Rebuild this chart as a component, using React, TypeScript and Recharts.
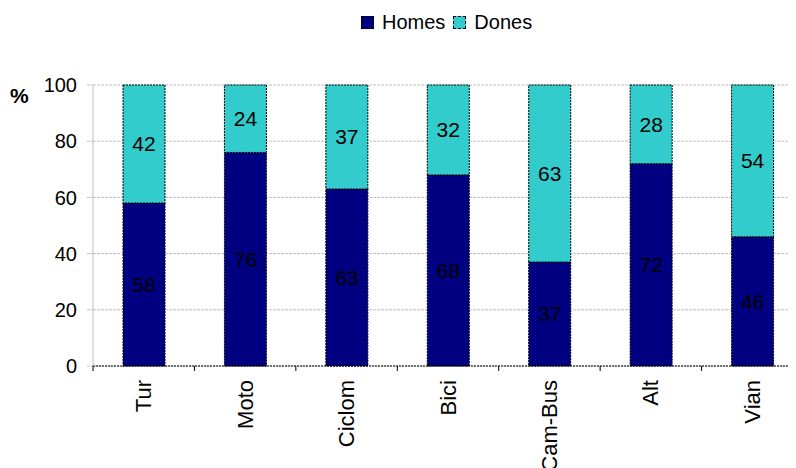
import { BarChart, Bar, XAxis, YAxis, CartesianGrid, LabelList } from 'recharts';

const categories = ['Tur', 'Moto', 'Ciclom', 'Bici', 'Cam-Bus', 'Alt', 'Vian'];
const homes = [58, 76, 63, 68, 37, 72, 46];
const dones = [42, 24, 37, 32, 63, 28, 54];
const yTicks = [0, 20, 40, 60, 80, 100];

const data = categories.map((name, i) => ({ name, homes: homes[i], dones: dones[i] }));

const CHART_W = 795;
const CHART_H = 460;
const Y_AXIS_W = 85;
const BAND = (CHART_W - Y_AXIS_W) / categories.length;
const FONT = '"Liberation Sans", Arial, sans-serif';

function CategoryTick(props: any) {
  const { x, y, payload } = props;
  const left = x - BAND / 2;
  return (
    <g>
      <line x1={left} y1={y} x2={left} y2={y + 5} stroke="#000" />
      <text
        x={x}
        y={y + 14}
        transform={`rotate(-90, ${x}, ${y + 14})`}
        textAnchor="end"
        dominantBaseline="central"
        fontSize={22}
        fontFamily={FONT}
        fill="#000"
      >
        {payload.value}
      </text>
    </g>
  );
}

function LegendBox({ color, label }: { color: string; label: string }) {
  return (
    <div style={{ display: 'flex', alignItems: 'center', marginRight: 8 }}>
      <div
        style={{
          width: 11,
          height: 11,
          background: color,
          border: '1px dashed #000',
          marginRight: 8,
        }}
      />
      <span>{label}</span>
    </div>
  );
}

export default function App() {
  return (
    <div style={{ position: 'relative', width: 788, height: 460, overflow: 'hidden', fontFamily: FONT }}>
      <div
        style={{
          position: 'absolute',
          top: 4,
          left: 353,
          display: 'flex',
          fontSize: 20,
          lineHeight: '20px',
          color: '#000',
        }}
      >
        <LegendBox color="#000080" label="Homes" />
        <LegendBox color="#33CCCC" label="Dones" />
      </div>
      <div
        style={{
          position: 'absolute',
          top: 78,
          left: 2,
          fontSize: 21,
          lineHeight: '20px',
          fontWeight: 'bold',
        }}
      >
        %
      </div>
      <BarChart
        width={CHART_W}
        height={CHART_H}
        data={data}
        margin={{ top: 77, right: 0, left: 0, bottom: 0 }}
        barSize={42}
      >
        <CartesianGrid
          vertical={false}
          stroke="#c0c0c0"
          strokeDasharray="3 1"
        />
        <XAxis
          dataKey="name"
          height={102}
          tickSize={0}
          tickMargin={0}
          tickLine={false}
          axisLine={{ stroke: '#000', strokeDasharray: '2 1' }}
          tick={<CategoryTick />}
          interval={0}
        />
        <YAxis
          width={Y_AXIS_W}
          domain={[0, 100]}
          ticks={yTicks}
          tickSize={6}
          tickMargin={10}
          tickLine={{ stroke: '#c0c0c0', strokeDasharray: '3 1' }}
          axisLine={{ stroke: '#c0c0c0' }}
          tick={{ fill: '#000', fontSize: 20, fontFamily: FONT }}
        />
        <Bar
          dataKey="homes"
          stackId="a"
          fill="#000080"
          stroke="#000"
          strokeDasharray="2 1"
          isAnimationActive={false}
        >
          <LabelList dataKey="homes" position="center" fill="#000" fontSize={21} fontFamily={FONT} />
        </Bar>
        <Bar
          dataKey="dones"
          stackId="a"
          fill="#33CCCC"
          stroke="#000"
          strokeDasharray="2 1"
          isAnimationActive={false}
        >
          <LabelList dataKey="dones" position="center" fill="#000" fontSize={21} fontFamily={FONT} />
        </Bar>
      </BarChart>
    </div>
  );
}
